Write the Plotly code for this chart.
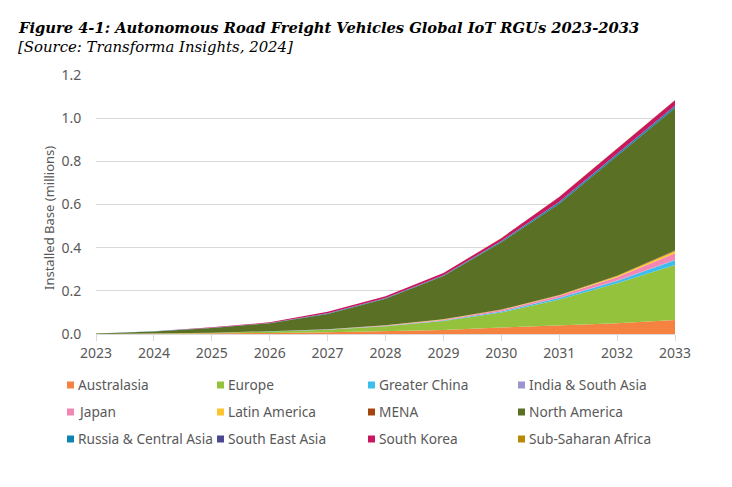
import plotly.graph_objects as go

years = list(range(2023, 2034))
tick_labels = [str(y) for y in years]
australasia = [0.0002, 0.001, 0.003, 0.005, 0.008, 0.012, 0.018, 0.030, 0.040, 0.050, 0.065]
europe = [0.0003, 0.001, 0.003, 0.007, 0.012, 0.024, 0.042, 0.070, 0.120, 0.185, 0.255]
greater_china = [0, 0, 0.0001, 0.0002, 0.0005, 0.001, 0.002, 0.004, 0.007, 0.011, 0.022]
india = [0, 0, 0, 0.0001, 0.0001, 0.0002, 0.0004, 0.0007, 0.001, 0.0015, 0.002]
japan = [0, 0, 0.0001, 0.0002, 0.001, 0.002, 0.004, 0.006, 0.009, 0.015, 0.030]
latin_america = [0, 0, 0, 0.0002, 0.0005, 0.001, 0.0015, 0.002, 0.003, 0.006, 0.010]
mena = [0, 0, 0, 0, 0.0001, 0.0002, 0.0003, 0.0005, 0.001, 0.0015, 0.003]
north_america = [0.0015, 0.010, 0.022, 0.037, 0.071, 0.123, 0.200, 0.312, 0.423, 0.555, 0.660]
russia = [0, 0.0002, 0.0005, 0.001, 0.002, 0.002, 0.003, 0.004, 0.006, 0.009, 0.008]
sea = [0, 0.0001, 0.0002, 0.0005, 0.001, 0.001, 0.001, 0.002, 0.003, 0.004, 0.004]
south_korea = [0, 0.0007, 0.002, 0.003, 0.007, 0.008, 0.010, 0.013, 0.022, 0.023, 0.024]
ssa = [0, 0, 0, 0, 0.0001, 0.0001, 0.0002, 0.0003, 0.0005, 0.0007, 0.001]

names = ["Australasia", "Europe", "Greater China", "India & South Asia", "Japan", "Latin America",
         "MENA", "North America", "Russia & Central Asia", "South East Asia", "South Korea", "Sub-Saharan Africa"]
series = [australasia, europe, greater_china, india, japan, latin_america, mena, north_america,
          russia, sea, south_korea, ssa]
colors = ["#F58240", "#95C23D", "#3DBDEC", "#9A95CE", "#F286B5", "#FFC52F", "#A6440F", "#5A7024",
          "#0F84B0", "#4B4790", "#C9175F", "#B98A00"]

# the page puts the figure 8px in from the top-left corner
OFF = 8
W, H = 732 - 2 * OFF, 487 - 2 * OFF
L, R, T, B = 96 - OFF, 675 - OFF, 75 - OFF, 334 - OFF
GREY = "#595959"
FONT = "Noto Sans"

fig = go.Figure()
for n, s, c in zip(names, series, colors):
    fig.add_trace(go.Scatter(x=years, y=s, name=n, mode="lines", stackgroup="one",
                             line=dict(width=0, color=c), fillcolor=c, showlegend=False))

col_x = [67, 217, 368, 518]
row_y = [385, 412, 439]
shapes, annos = [], []


def px(x):
    return (x - OFF - L) / (R - L)


def py(y):
    return (B - (y - OFF)) / (B - T)


for i, (n, c) in enumerate(zip(names, colors)):
    x = col_x[i % 4]
    y = row_y[i // 4]
    shapes.append(dict(type="rect", xref="paper", yref="paper",
                       x0=px(x), x1=px(x + 7), y0=py(y + 3.5), y1=py(y - 3.5),
                       fillcolor=c, line=dict(width=0)))
    annos.append(dict(text=n, xref="paper", yref="paper", x=px(x + 9), y=py(y - 1),
                      xanchor="left", yanchor="middle", showarrow=False,
                      font=dict(family=FONT, size=13.7, color=GREY)))

annos.append(dict(text="<b><i>Figure 4-1: Autonomous Road Freight Vehicles Global IoT RGUs 2023-2033</i></b>",
                  xref="paper", yref="paper", x=px(16), y=py(28),
                  xanchor="left", yanchor="middle", showarrow=False,
                  font=dict(family="DejaVu Serif", size=14.7, color="black")))
annos.append(dict(text="<i>[Source: Transforma Insights, 2024]</i>",
                  xref="paper", yref="paper", x=px(16), y=py(47),
                  xanchor="left", yanchor="middle", showarrow=False,
                  font=dict(family="DejaVu Serif", size=14.9, color="black")))
annos.append(dict(text="Installed Base (millions)", xref="paper", yref="paper", x=px(49), y=py(218),
                  xanchor="center", yanchor="middle", textangle=-90, showarrow=False,
                  font=dict(family=FONT, size=13, color=GREY)))

fig.update_layout(
    width=W, height=H, autosize=False, showlegend=False,
    margin=dict(l=L, r=W - R, t=T, b=H - B),
    paper_bgcolor="white", plot_bgcolor="white",
    shapes=shapes, annotations=annos,
    font=dict(family=FONT, size=14, color=GREY),
    xaxis=dict(range=[2023, 2033], tickmode="array", tickvals=years, ticktext=tick_labels,
               showgrid=False, showline=True, linecolor="#D9D9D9", linewidth=1,
               ticks="outside", ticklen=6, tickcolor="#D9D9D9", zeroline=False,
               tickfont=dict(size=14, color=GREY)),
    yaxis=dict(range=[0, 1.2], dtick=0.2, tickformat=".1f", showgrid=True, gridcolor="#D9D9D9",
               gridwidth=1, zeroline=False, showline=False, ticks="outside", ticklen=11,
               tickcolor="rgba(0,0,0,0)", tickfont=dict(size=14, color=GREY)),
)
fig.write_html("out.html")
